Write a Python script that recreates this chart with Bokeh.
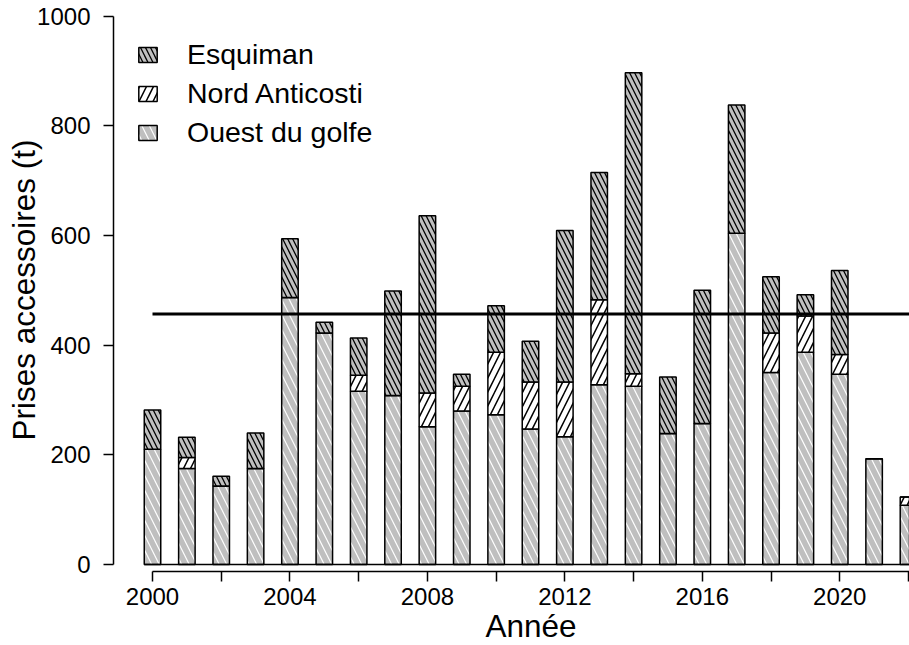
from bokeh.plotting import figure
from bokeh.models import Range1d, FixedTicker, Legend, LegendItem, ColumnDataSource, Title
from bokeh.embed import file_html
from bokeh.resources import INLINE

# ---- data ----
years = list(range(2000, 2023))
ouest = [210, 175, 143, 175, 487, 422, 316, 308, 251, 280, 273, 247, 233,
         328, 325, 239, 257, 604, 350, 387, 347, 193, 108]
nord = [0, 20, 0, 0, 0, 0, 29, 0, 62, 45, 114, 86, 100,
        155, 23, 0, 0, 0, 72, 66, 36, 0, 15]
esquiman = [72, 37, 18, 65, 107, 20, 68, 191, 323, 22, 85, 74, 276,
            232, 549, 103, 243, 234, 103, 39, 153, 0, 0]
reference_level = 457
y_ticks = [0, 200, 400, 600, 800, 1000]
x_major_ticks = [2000, 2004, 2008, 2012, 2016, 2020]
x_minor_ticks = [2002, 2006, 2010, 2014, 2018, 2022]

series_names = ["Ouest du golfe", "Nord Anticosti", "Esquiman"]
x_title = "Année"
y_title = "Prises accessoires (t)"

# ---- styles ----
FONT = "Liberation Sans"
GRAY = "#bfbfbf"
BAR_W = 0.48

src = ColumnDataSource(dict(year=years, ouest=ouest, nord=nord, esquiman=esquiman))

p = figure(width=909, height=645, output_backend="svg", toolbar_location=None,
           x_range=Range1d(1998.865, 2022.03), y_range=Range1d(-12.8, 1014.1),
           min_border_left=113, min_border_right=0, min_border_top=8,
           min_border_bottom=74)
p.xgrid.visible = False
p.ygrid.visible = False
p.outline_line_color = None
p.background_fill_color = "white"

renderers = p.vbar_stack(
    ["ouest", "nord", "esquiman"], x="year", width=BAR_W, source=src,
    fill_color=[GRAY, "white", GRAY],
    line_color="black", line_width=1.5,
    hatch_pattern=["left_diagonal_line", "right_diagonal_line", "left_diagonal_line"],
    hatch_color=["white", "black", "black"],
    hatch_scale=[15, 14, 10],
    hatch_weight=[1.2, 1.5, 1.3],
)

# baseline under the bars
p.line(x=[years[0] - BAR_W / 2, years[-1] + 2], y=[0, 0],
       line_color="black", line_width=1.5)
# reference level
p.line(x=[years[0], years[-1] + 2], y=[reference_level, reference_level],
       line_color="black", line_width=3)

# axes
for ax in (p.xaxis[0], p.yaxis[0]):
    ax.axis_line_color = "black"
    ax.axis_line_width = 1.5
    ax.major_tick_line_color = "black"
    ax.major_tick_line_width = 1.5
    ax.major_tick_out = 10
    ax.major_tick_in = 0
    ax.major_label_text_font = FONT
    ax.major_label_text_font_size = "24px"
    ax.major_label_text_color = "black"
    ax.axis_label_text_font = FONT
    ax.axis_label_text_font_size = "31.5px"
    ax.axis_label_text_font_style = "normal"
    ax.axis_label_text_color = "black"

p.yaxis[0].ticker = FixedTicker(ticks=y_ticks)
p.yaxis[0].bounds = (y_ticks[0], y_ticks[-1])
p.yaxis[0].major_label_orientation = "horizontal"
p.yaxis[0].major_label_standoff = 13
p.yaxis[0].axis_label = y_title
p.yaxis[0].axis_label_standoff = -8
p.yaxis[0].minor_tick_line_color = None

p.xaxis[0].ticker = FixedTicker(ticks=x_major_ticks, minor_ticks=x_minor_ticks)
p.xaxis[0].bounds = (years[0], years[-1] + 2)
p.xaxis[0].minor_tick_line_color = "black"
p.xaxis[0].minor_tick_line_width = 1.5
p.xaxis[0].minor_tick_out = 10
p.xaxis[0].minor_tick_in = 0
p.xaxis[0].major_label_standoff = 6

# x-axis title, centred under the drawn axis line
p.add_layout(Title(text=x_title, align="left", offset=372, vertical_align="top",
                   standoff=0, text_font=FONT, text_font_size="31.5px",
                   text_font_style="normal", text_color="black"), "below")

legend = Legend(
    items=[LegendItem(label=series_names[2], renderers=[renderers[2]]),
           LegendItem(label=series_names[1], renderers=[renderers[1]]),
           LegendItem(label=series_names[0], renderers=[renderers[0]])],
    location=(23, 422), margin=0, padding=0, spacing=6,
    glyph_width=23, glyph_height=19, label_standoff=28,
    label_text_font=FONT, label_text_font_size="28.5px", label_text_color="black",
    border_line_color=None, background_fill_alpha=0,
)
p.add_layout(legend)

open("out.html", "w").write(file_html(p, INLINE))
